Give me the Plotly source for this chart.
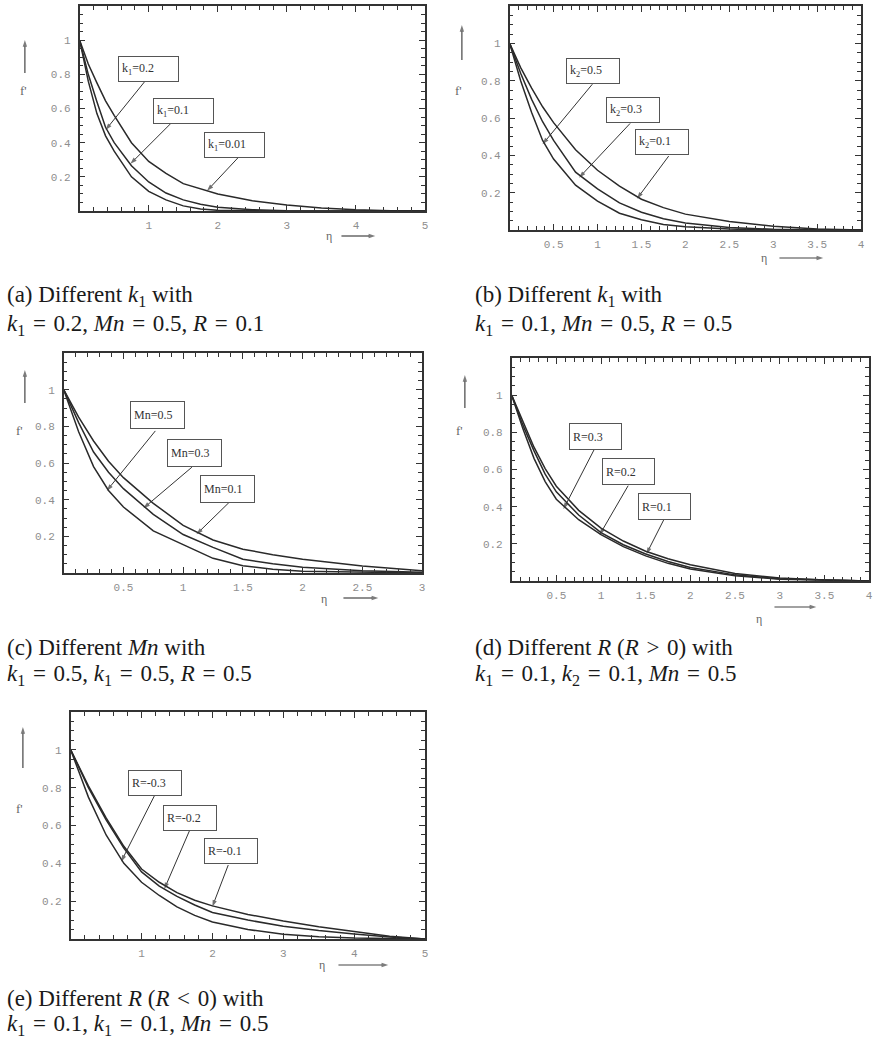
import plotly.graph_objects as go

# ---------------- data: f'(eta) profiles ----------------
# (a) different k1
eta_a = [0, 0.125, 0.25, 0.375, 0.5, 0.75, 1, 1.25, 1.5, 1.75, 2, 2.5, 3, 3.5, 4, 4.5, 5]
fa_k1_001 = [1, 0.86, 0.75, 0.645, 0.56, 0.40, 0.29, 0.22, 0.16, 0.13, 0.10, 0.06, 0.035, 0.018, 0.007, 0.002, 0]
fa_k1_01 = [1, 0.80, 0.64, 0.49, 0.40, 0.265, 0.17, 0.105, 0.065, 0.04, 0.022, 0.008, 0.002, 0, 0, 0, 0]
fa_k1_02 = [1, 0.76, 0.57, 0.44, 0.35, 0.20, 0.115, 0.065, 0.03, 0.012, 0.004, 0, 0, 0, 0, 0, 0]

# (b) different k2
eta_b = [0, 0.125, 0.25, 0.375, 0.5, 0.75, 1, 1.25, 1.5, 1.75, 2, 2.5, 3, 3.5, 4]
fb_k2_01 = [1, 0.87, 0.76, 0.66, 0.575, 0.43, 0.32, 0.235, 0.165, 0.12, 0.085, 0.045, 0.02, 0.006, 0]
fb_k2_03 = [1, 0.84, 0.70, 0.58, 0.48, 0.31, 0.22, 0.145, 0.095, 0.06, 0.037, 0.013, 0.004, 0, 0]
fb_k2_05 = [1, 0.80, 0.63, 0.48, 0.38, 0.24, 0.155, 0.09, 0.055, 0.03, 0.017, 0.005, 0, 0, 0]

# (c) different Mn
eta_c = [0, 0.125, 0.25, 0.375, 0.5, 0.75, 1, 1.25, 1.5, 1.75, 2, 2.5, 3]
fc_mn_01 = [1, 0.85, 0.72, 0.61, 0.52, 0.38, 0.26, 0.18, 0.13, 0.10, 0.075, 0.038, 0.012]
fc_mn_03 = [1, 0.82, 0.66, 0.55, 0.46, 0.32, 0.21, 0.14, 0.075, 0.05, 0.032, 0.012, 0.004]
fc_mn_05 = [1, 0.77, 0.58, 0.45, 0.36, 0.23, 0.155, 0.08, 0.04, 0.02, 0.01, 0.003, 0]

# (d) different R (R > 0)
eta_d = [0, 0.125, 0.25, 0.375, 0.5, 0.75, 1, 1.25, 1.5, 1.75, 2, 2.5, 3, 3.5, 4]
fd_r_01 = [1, 0.86, 0.72, 0.605, 0.51, 0.38, 0.285, 0.215, 0.16, 0.12, 0.088, 0.04, 0.016, 0.005, 0]
fd_r_02 = [1, 0.84, 0.70, 0.575, 0.48, 0.355, 0.26, 0.195, 0.145, 0.105, 0.073, 0.033, 0.012, 0.004, 0]
fd_r_03 = [1, 0.82, 0.66, 0.535, 0.44, 0.33, 0.25, 0.185, 0.135, 0.095, 0.065, 0.028, 0.01, 0.003, 0]

# (e) different R (R < 0)
eta_e = [0, 0.25, 0.5, 0.75, 1, 1.25, 1.5, 1.75, 2, 2.5, 3, 3.5, 4, 4.5, 5]
fe_r_m01 = [1, 0.81, 0.64, 0.49, 0.37, 0.30, 0.245, 0.205, 0.175, 0.13, 0.095, 0.065, 0.04, 0.015, 0]
fe_r_m02 = [1, 0.80, 0.63, 0.48, 0.355, 0.28, 0.225, 0.18, 0.14, 0.10, 0.068, 0.045, 0.027, 0.01, 0]
fe_r_m03 = [1, 0.75, 0.55, 0.40, 0.30, 0.23, 0.17, 0.125, 0.09, 0.05, 0.025, 0.012, 0.005, 0.001, 0]

# tick labels
yticks = [0.2, 0.4, 0.6, 0.8, 1]
yticktext = ["0.2", "0.4", "0.6", "0.8", "1"]
xticks_int = [1, 2, 3, 4, 5]
xticks_half4 = [0.5, 1, 1.5, 2, 2.5, 3, 3.5, 4]
xticks_half3 = [0.5, 1, 1.5, 2, 2.5, 3]

# curve labels: text, box centre, arrow tail, arrow tip (all in axis units)
labels_a = [("k<sub>1</sub>=0.2", (1.001, 0.830), (0.937, 0.755), (0.375, 0.474)),
            ("k<sub>1</sub>=0.1", (1.499, 0.585), (1.311, 0.509), (0.735, 0.276)),
            ("k<sub>1</sub>=0.01", (2.248, 0.384), (2.291, 0.311), (1.844, 0.118))]
labels_b = [("k<sub>2</sub>=0.5", (0.952, 0.851), (0.941, 0.781), (0.374, 0.459)),
            ("k<sub>2</sub>=0.3", (1.405, 0.642), (1.371, 0.571), (0.790, 0.280)),
            ("k<sub>2</sub>=0.1", (1.739, 0.470), (1.810, 0.396), (1.450, 0.168))]
labels_c = [("Mn=0.5", (0.783, 0.862), (0.767, 0.775), (0.361, 0.449)),
            ("Mn=0.3", (1.096, 0.652), (1.073, 0.577), (0.667, 0.353)),
            ("Mn=0.1", (1.375, 0.458), (1.383, 0.384), (1.111, 0.211))]
labels_d = [("R=0.3", (0.936, 0.779), (0.921, 0.705), (0.579, 0.386)),
            ("R=0.2", (1.307, 0.587), (1.304, 0.513), (0.984, 0.248)),
            ("R=0.1", (1.707, 0.402), (1.701, 0.328), (1.508, 0.145))]
labels_e = [("R=-0.3", (1.187, 0.825), (1.180, 0.756), (0.712, 0.409)),
            ("R=-0.2", (1.678, 0.638), (1.685, 0.580), (1.320, 0.263)),
            ("R=-0.1", (2.264, 0.465), (2.223, 0.391), (1.999, 0.171))]

# math-style spacing around relations in the captions
EQ = " \u200a=\u200a "
GT = " \u200a&gt;\u200a "
LT = " \u200a&lt;\u200a "
K1 = "<i>k</i><sub>1</sub>"
K2 = "<i>k</i><sub>2</sub>"
captions = [
    (f"(a) Different {K1} with", f"{K1}{EQ}0.2, <i>Mn</i>{EQ}0.5, <i>R</i>{EQ}0.1"),
    (f"(b) Different {K1} with", f"{K1}{EQ}0.1, <i>Mn</i>{EQ}0.5, <i>R</i>{EQ}0.5"),
    ("(c) Different <i>Mn</i> with", f"{K1}{EQ}0.5, {K1}{EQ}0.5, <i>R</i>{EQ}0.5"),
    (f"(d) Different <i>R</i> (<i>R</i>{GT}0) with", f"{K1}{EQ}0.1, {K2}{EQ}0.1, <i>Mn</i>{EQ}0.5"),
    (f"(e) Different <i>R</i> (<i>R</i>{LT}0) with", f"{K1}{EQ}0.1, {K1}{EQ}0.1, <i>Mn</i>{EQ}0.5"),
]

# ---------------- layout geometry (pixels) ----------------
W, H = 880, 1049

panels = [
    dict(frame=(80, 427, 6, 211), xmax=5, xt=xticks_int, minor=0.2,
         eta=eta_a, curves=[fa_k1_001, fa_k1_01, fa_k1_02], labels=labels_a, box=(61, 26),
         flab=(24, 91), farrow=(25, 40, 73), elab=(330, 236), earrow=(343, 377, 236),
         cap=(5, 296, 325)),
    dict(frame=(512, 865, 6, 230), xmax=4, xt=xticks_half4, minor=0.1,
         eta=eta_b, curves=[fb_k2_01, fb_k2_03, fb_k2_05], labels=labels_b, box=(54, 26),
         flab=(461, 91), farrow=(464, 25, 60), elab=(767, 258), earrow=(783, 827, 258),
         cap=(475, 296, 325)),
    dict(frame=(64, 424, 353, 573), xmax=3, xt=xticks_half3, minor=0.1,
         eta=eta_c, curves=[fc_mn_01, fc_mn_03, fc_mn_05], labels=labels_c, box=(55, 28),
         flab=(20, 430), farrow=(25, 370, 403), elab=(325, 599), earrow=(345, 380, 598),
         cap=(5, 647, 675)),
    dict(frame=(514, 873, 358, 581), xmax=4, xt=xticks_half4, minor=0.1,
         eta=eta_d, curves=[fd_r_01, fd_r_02, fd_r_03], labels=labels_d, box=(53, 27),
         flab=(462, 430), farrow=(467, 375, 408), elab=(762, 619), earrow=(778, 820, 607),
         cap=(475, 647, 675)),
    dict(frame=(71, 427, 712, 939), xmax=5, xt=xticks_int, minor=0.2,
         eta=eta_e, curves=[fe_r_m01, fe_r_m02, fe_r_m03], labels=labels_e, box=(54, 26),
         flab=(20, 808), farrow=(23, 727, 768), elab=(323, 965), earrow=(340, 390, 965),
         cap=(5, 998, 1025)),
]

SERIF = "Liberation Serif, Times New Roman, serif"
MONO = "Liberation Mono, Courier New, monospace"
LINE = "#2a2a2a"
TICKTXT = "#8e8e8e"
FRAME = "#333333"


def px(x):
    return x / W


def py(y):
    return 1 - y / H


def arrow_trace(xs, ys, xa, ya, width=1.0, color="#333333", size=7):
    """Straight line ending in an arrowhead at its second point."""
    return go.Scatter(x=xs, y=ys, xaxis=xa, yaxis=ya, mode="lines+markers",
                      line=dict(color=color, width=width),
                      marker=dict(symbol=["circle", "arrow"], size=[0, size],
                                  angleref="previous", color=color,
                                  line=dict(width=0)),
                      hoverinfo="skip")


fig = go.Figure()
layout = dict(width=W, height=H, margin=dict(l=0, r=0, t=0, b=0),
              paper_bgcolor="white", plot_bgcolor="rgba(0,0,0,0)", showlegend=False)
annotations = []

# full-page pixel canvas for the axis-direction arrows
NP = len(panels) + 1
layout[f"xaxis{NP}"] = dict(domain=[0, 1], range=[0, W], visible=False, anchor=f"y{NP}",
                            fixedrange=True)
layout[f"yaxis{NP}"] = dict(domain=[0, 1], range=[H, 0], visible=False, anchor=f"x{NP}",
                            fixedrange=True)

for i, p in enumerate(panels, start=1):
    xa = "x" if i == 1 else f"x{i}"
    ya = "y" if i == 1 else f"y{i}"
    l, r, t, b = p["frame"]

    for curve in p["curves"]:
        fig.add_trace(go.Scatter(x=p["eta"], y=curve, mode="lines", xaxis=xa, yaxis=ya,
                                 line=dict(color=LINE, width=1.5), hoverinfo="skip"))

    # boxed frame with inward major and minor ticks on all four sides
    axis_common = dict(showgrid=False, zeroline=False, showline=True, mirror="allticks",
                       linecolor=FRAME, linewidth=1.5, ticks="inside", ticklen=6,
                       tickwidth=1.3, tickcolor=FRAME,
                       tickfont=dict(family=MONO, size=11, color=TICKTXT))
    layout["xaxis" if i == 1 else f"xaxis{i}"] = dict(
        axis_common, domain=[px(l), px(r)], anchor=ya, range=[0, p["xmax"]],
        tickmode="array", tickvals=p["xt"], ticktext=[f"{v:g}" for v in p["xt"]],
        ticklabelstandoff=3,
        minor=dict(ticks="inside", ticklen=4, tickwidth=1.3, dtick=p["minor"], tick0=0,
                   tickcolor=FRAME))
    layout["yaxis" if i == 1 else f"yaxis{i}"] = dict(
        axis_common, domain=[py(b), py(t)], anchor=xa, range=[0, 1.2],
        tickmode="array", tickvals=yticks, ticktext=yticktext, ticklabelstandoff=5,
        minor=dict(ticks="inside", ticklen=4, tickwidth=1.3, dtick=0.05, tick0=0,
                   tickcolor=FRAME))

    # labelled curves: boxed text plus an arrow onto the curve
    bw, bh = p["box"]
    for text, (cx, cy), (tx, ty), (hx, hy) in p["labels"]:
        annotations.append(dict(
            x=cx, y=cy, xref=xa, yref=ya, text=text, showarrow=False,
            xanchor="center", yanchor="middle",
            font=dict(family=SERIF, size=12, color="#333333"),
            bgcolor="white", bordercolor="#555555", borderwidth=1, borderpad=3,
            width=bw - 8, height=bh - 8, align="left", valign="middle"))
        fig.add_trace(arrow_trace([tx, hx], [ty, hy], xa, ya))

    # axis names with direction arrows
    fx, fy = p["flab"]
    annotations.append(dict(x=px(fx), y=py(fy), xref="paper", yref="paper", text="f'",
                            showarrow=False, xanchor="center", yanchor="middle",
                            font=dict(family=SERIF, size=13, color="#666666")))
    ax_x, ay_top, ay_bot = p["farrow"]
    fig.add_trace(arrow_trace([ax_x, ax_x], [ay_bot, ay_top], f"x{NP}", f"y{NP}",
                              width=1.2, color="#444444", size=7))
    ex, ey = p["elab"]
    annotations.append(dict(x=px(ex), y=py(ey), xref="paper", yref="paper", text="η",
                            showarrow=False, xanchor="center", yanchor="middle",
                            font=dict(family=SERIF, size=12, color="#666666")))
    x0, x1, yy = p["earrow"]
    fig.add_trace(arrow_trace([x0, x1], [yy, yy], f"x{NP}", f"y{NP}",
                              width=1.2, color="#444444", size=7))

    # caption below the panel
    cap1, cap2 = captions[i - 1]
    cxp, cy1, cy2 = p["cap"]
    for txt, yy in ((cap1, cy1), (cap2, cy2)):
        annotations.append(dict(x=px(cxp), y=py(yy), xref="paper", yref="paper", text=txt,
                                showarrow=False, xanchor="left", yanchor="middle",
                                font=dict(family=SERIF, size=23, color="#1a1a1a")))

layout["annotations"] = annotations
fig.update_layout(**layout)
fig.write_html("out.html")
